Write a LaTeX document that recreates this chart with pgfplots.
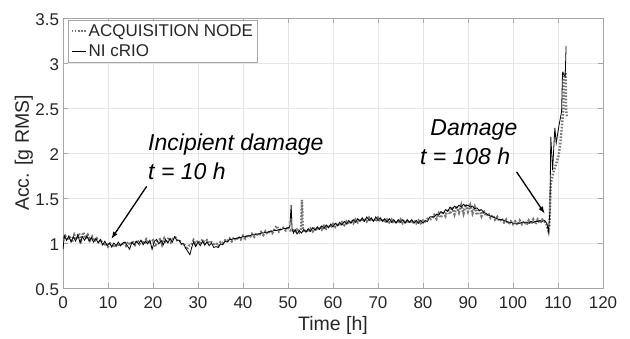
\documentclass[border=0pt]{standalone}
\usepackage{fontspec}
\setmainfont{Liberation Sans}
\usepackage{pgfplots}
\pgfplotsset{compat=1.18}
\definecolor{gridc}{HTML}{E6E6E6}
\definecolor{axc}{HTML}{A6A6A6}
\definecolor{txt}{HTML}{262626}
\definecolor{nodec}{HTML}{767676}
\begin{document}
\begin{tikzpicture}
\useasboundingbox (-63pt,-51pt) rectangle (567pt,288pt);
\begin{axis}[
  scale only axis,
  width=540pt, height=270pt,
  xmin=0, xmax=120, ymin=0.5, ymax=3.5,
  xtick={0,10,...,120},
  ytick={0.5,1,1.5,2,2.5,3,3.5},
  yticklabels={0.5,1,1.5,2,2.5,3,3.5},
  xticklabels={0,10,20,30,40,50,60,70,80,90,100,110,120},
  grid=major,
  major grid style={gridc, line width=0.6pt},
  axis line style={axc, line width=0.8pt},
  tick style={axc, line width=0.8pt},
  major tick length=5pt,
  tick align=inside,
  ticklabel style={font=\fontsize{17}{19}\selectfont, text=txt},
  xticklabel style={yshift=-5.5pt},
  yticklabel style={xshift=-0.5pt, yshift=-1.5pt},
  xlabel={Time [h]}, ylabel={Acc. [g RMS]},
  label style={font=\fontsize{19.5}{22}\selectfont, text=txt},
  xlabel style={at={(axis description cs:0.5,-0.159)}, anchor=base},
  ylabel style={at={(axis description cs:-0.063,0.5)}, anchor=base, rotate=0},
  legend cell align=left,
  legend style={at={(0.0093,0.9926)}, anchor=north west, draw=axc, line width=0.6pt,
     font=\fontsize{17}{19}\selectfont, text=txt, inner sep=2pt, row sep=3pt,
     /tikz/every even column/.append style={column sep=0pt}},
  legend image code/.code={\draw[#1] (0pt,0pt) -- (14pt,0pt);},
]
\addplot[nodec, line width=2.4pt, dash pattern=on 1.6pt off 1.6pt] coordinates {
(0,1.05)(0.5,1.08)(1,1.03)(1.5,1.07)(2,1.01)(2.5,1.09)(3,1.04)(3.5,1.11)(4,1.03)(4.5,1.12)
(5,1.05)(5.5,1.09)(6,1.03)(6.5,1.07)(7,1.02)(7.5,1.05)(8,1.01)(8.5,1.02)(9,0.97)(9.5,1.00)
(10,0.96)(10.5,0.99)(11,0.95)(11.5,0.98)(12,0.96)(12.5,0.99)(13,0.97)(13.5,1.01)(14,0.97)(14.5,1.01)
(15,0.98)(15.5,1.02)(16,0.98)(16.5,1.03)(17,0.99)(17.5,1.03)(18,0.99)(18.5,1.04)(19,1.00)(19.5,1.01)
(20,1.03)(20.5,0.96)(21,1.02)(21.5,1.04)(22,0.98)(22.5,1.05)(23,1.00)(23.5,1.06)(24,1.01)(24.5,1.05)
(25,1.06)(25.5,1.02)(26,1.02)(26.5,0.98)(27,0.98)(27.5,0.93)(28,0.97)(28.5,0.98)(29,1.03)(29.5,0.98)
(30,1.03)(30.5,0.99)(31,1.04)(31.5,0.99)(32,1.03)(32.5,1.00)(33,1.01)(33.5,0.99)(34,1.00)(34.5,0.97)
(35,1.01)(35.5,1.00)(36,1.03)(36.5,1.02)(37,1.05)(37.5,1.02)(38,1.06)(38.5,1.03)(39,1.07)(39.5,1.04)
(40,1.08)(40.5,1.05)(41,1.09)(41.5,1.06)(42,1.10)(42.5,1.07)(43,1.11)(43.5,1.08)(44,1.12)(44.5,1.09)
(45,1.13)(45.5,1.10)(46,1.14)(46.5,1.11)(47,1.15)(47.5,1.19)(48,1.13)(48.5,1.16)(49,1.17)(49.5,1.14)
(50,1.18)(50.5,1.14)(51,1.15)(51.5,1.12)(52,1.15)(52.5,1.12)(52.9,1.16)(53.1,1.48)(53.3,1.15)(53.6,1.12)
(54,1.15)(54.5,1.12)(55,1.16)(55.5,1.13)(56,1.17)(56.5,1.14)(57,1.18)(57.5,1.15)(58,1.19)(58.5,1.16)
(59,1.20)(59.5,1.17)(60,1.21)(60.5,1.18)(61,1.22)(61.5,1.19)(62,1.23)(62.5,1.20)(63,1.24)(63.5,1.21)
(64,1.25)(64.5,1.22)(65,1.26)(65.5,1.23)(66,1.27)(66.5,1.24)(67,1.27)(67.5,1.24)(68,1.28)(68.5,1.24)
(69,1.27)(69.5,1.24)(70,1.28)(70.5,1.24)(71,1.27)(71.5,1.23)(72,1.26)(72.5,1.23)(73,1.26)(73.5,1.22)
(74,1.25)(74.5,1.22)(75,1.26)(75.5,1.22)(76,1.25)(76.5,1.22)(77,1.25)(77.5,1.22)(78,1.25)(78.5,1.22)
(79,1.25)(79.5,1.22)(80,1.25)(80.5,1.24)(81,1.27)(81.5,1.26)(82,1.27)(82.5,1.31)(83,1.27)(83.5,1.33)
(84,1.28)(84.5,1.35)(85,1.30)(85.5,1.38)(86,1.32)(86.5,1.40)(87,1.32)(87.5,1.41)(88,1.34)(88.5,1.42)
(89,1.33)(89.5,1.43)(90,1.35)(90.5,1.42)(91,1.33)(91.5,1.40)(92,1.31)(92.5,1.38)(93,1.30)(93.5,1.36)
(94,1.30)(94.5,1.33)(95,1.28)(95.5,1.31)(96,1.26)(96.5,1.29)(97,1.24)(97.5,1.27)(98,1.23)(98.5,1.26)
(99,1.21)(99.5,1.24)(100,1.21)(100.5,1.24)(101,1.20)(101.5,1.25)(102,1.21)(102.5,1.24)(103,1.20)(103.5,1.25)
(104,1.21)(104.5,1.26)(105,1.21)(105.5,1.26)(106,1.22)(106.5,1.26)(107,1.24)(107.5,1.20)(107.9,1.13)
(108.1,1.20)(108.4,1.67)(108.8,1.75)(109.1,1.81)(109.6,1.88)(110.1,1.96)(110.5,2.10)(110.8,2.26)
(111.2,2.48)(111.3,2.89)(111.7,2.89)(111.8,2.48)(112,2.40)
};
\addlegendentry{ACQUISITION NODE}
\addplot[black, line width=0.8pt] coordinates {
(0,0.93)(0.3,1.08)(0.8,1.03)(1.3,1.08)(1.8,1.01)(2.3,1.07)(2.8,1.02)(3.3,1.09)(3.8,1.00)(4.3,1.07)
(4.8,1.03)(5.3,1.08)(5.8,1.02)(6.3,1.06)(6.8,1.01)(7.3,1.05)(7.8,1.00)(8.3,1.04)(8.8,0.98)(9.3,1.02)
(9.8,0.97)(10.3,1.00)(10.8,0.96)(11.3,1.00)(11.8,0.97)(12.3,1.01)(12.8,0.97)(13.3,1.00)(13.8,1.01)(14.3,0.97)
(14.8,0.93)(15.3,1.01)(15.8,0.98)(16.3,1.02)(16.8,0.99)(17.3,1.03)(17.8,0.98)(18.3,1.02)(18.8,0.99)(19.3,1.03)
(19.8,0.93)(20.3,1.02)(20.8,1.04)(21.3,0.99)(21.8,1.03)(22.3,0.98)(22.8,1.04)(23.3,1.00)(23.8,1.05)(24.3,1.01)
(24.8,1.07)(25.3,1.03)(25.8,1.03)(26.3,0.99)(26.8,0.99)(27.3,0.94)(27.8,0.90)(28.2,0.87)(28.6,0.95)(29.0,1.01)
(29.5,0.96)(30.0,1.01)(30.5,0.97)(31.0,1.02)(31.5,0.98)(32.0,1.01)(32.5,0.97)(33.0,1.00)(33.5,0.95)(34.0,0.96)
(34.5,0.95)(35.0,0.99)(35.5,0.98)(36.0,1.02)(36.5,1.01)(37.0,1.04)(37.5,1.04)(38.0,1.05)(38.5,1.05)(39.0,1.06)
(39.5,1.06)(40.0,1.07)(40.5,1.07)(41.0,1.08)(41.5,1.08)(42.0,1.09)(42.5,1.09)(43.0,1.10)(43.5,1.10)(44.0,1.11)
(44.5,1.11)(45.0,1.12)(45.5,1.12)(46.0,1.13)(46.5,1.13)(47.0,1.14)(47.5,1.14)(48.0,1.15)(48.5,1.15)(49.0,1.16)
(49.5,1.16)(50.0,1.17)(50.4,1.18)(50.7,1.42)(50.9,1.16)(51.2,1.11)(51.6,1.15)(52.0,1.10)(52.5,1.14)(53.0,1.11)
(53.5,1.15)(54.0,1.12)(54.5,1.16)(55.0,1.13)(55.5,1.17)(56.0,1.14)(56.5,1.18)(57.0,1.15)(57.5,1.19)(58.0,1.16)
(58.5,1.20)(59.0,1.17)(59.5,1.21)(60.0,1.18)(60.5,1.22)(61.0,1.19)(61.5,1.23)(62.0,1.20)(62.5,1.24)(63.0,1.21)
(63.5,1.25)(64.0,1.22)(64.5,1.26)(65.0,1.23)(65.5,1.27)(66.0,1.24)(66.5,1.28)(67.0,1.24)(67.5,1.29)(68.0,1.25)
(68.5,1.28)(69.0,1.24)(69.5,1.29)(70.0,1.25)(70.5,1.28)(71.0,1.24)(71.5,1.27)(72.0,1.23)(72.5,1.27)(73.0,1.23)
(73.5,1.26)(74.0,1.22)(74.5,1.26)(75.0,1.23)(75.5,1.26)(76.0,1.22)(76.5,1.26)(77.0,1.23)(77.5,1.26)(78.0,1.22)
(78.5,1.25)(79.0,1.22)(79.5,1.25)(80.0,1.22)(80.5,1.25)(81.0,1.24)(81.5,1.29)(82.0,1.29)(82.5,1.29)(83.0,1.32)
(83.5,1.31)(84.0,1.35)(84.5,1.33)(85.0,1.37)(85.5,1.35)(86.0,1.40)(86.5,1.37)(87.0,1.41)(87.5,1.39)(88.0,1.42)
(88.5,1.40)(89.0,1.43)(89.5,1.41)(90.0,1.42)(90.5,1.40)(91.0,1.41)(91.5,1.38)(92.0,1.39)(92.5,1.36)(93.0,1.37)
(93.5,1.34)(94.0,1.33)(94.5,1.31)(95.0,1.30)(95.5,1.29)(96.0,1.28)(96.5,1.27)(97.0,1.26)(97.5,1.26)(98.0,1.25)
(98.5,1.24)(99.0,1.23)(99.5,1.23)(100.0,1.22)(100.5,1.22)(101.0,1.22)(101.5,1.22)(102.0,1.23)(102.5,1.23)(103.0,1.23)
(103.5,1.22)(104.0,1.24)(104.5,1.23)(105.0,1.24)(105.5,1.24)(106.0,1.25)(106.5,1.24)(107.0,1.25)(107.5,1.22)
(107.9,1.13)(108.2,1.35)(108.4,2.18)(108.8,1.81)(109.3,2.28)(109.6,2.11)(110.2,2.30)(110.8,2.46)(111.0,2.89)
(111.3,2.87)(111.6,2.85)(111.8,3.19)
};
\addlegendentry{NI cRIO}
\draw[-{latex}, black, line width=1.3pt] (axis cs:18.6,1.63) -- (axis cs:10.8,1.05);
\draw[-{latex}, black, line width=1.3pt] (axis cs:100.8,1.79) -- (axis cs:107.0,1.33);
\node[anchor=base west, inner sep=0pt, font=\fontsize{23}{25}\selectfont\itshape] at (axis cs:18.9,2.03) {Incipient damage};
\node[anchor=base west, inner sep=0pt, font=\fontsize{23}{25}\selectfont\itshape] at (axis cs:18.9,1.71) {t = 10 h};
\node[anchor=base west, inner sep=0pt, font=\fontsize{23}{25}\selectfont\itshape] at (axis cs:81.6,2.19) {Damage};
\node[anchor=base west, inner sep=0pt, font=\fontsize{23}{25}\selectfont\itshape] at (axis cs:79.3,1.867) {t = 108 h};
\end{axis}
\end{tikzpicture}
\end{document}
